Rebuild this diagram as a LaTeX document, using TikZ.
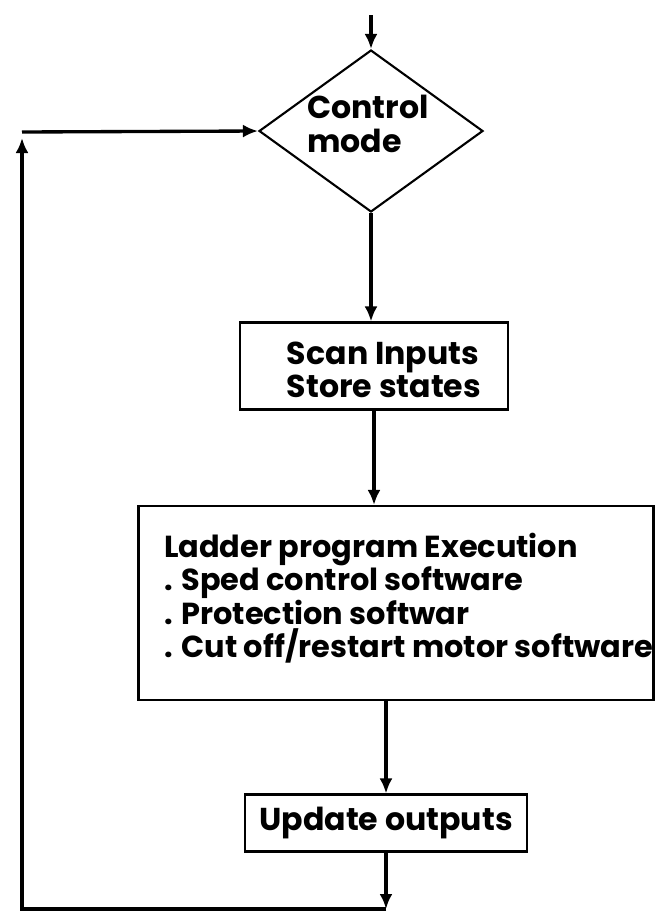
\documentclass[tikz,border=0pt]{standalone}
\usepackage{fontspec}
\setmainfont{Poppins}
\usetikzlibrary{shapes.geometric, arrows.meta, positioning, calc}

\begin{document}
\begin{tikzpicture}[x=0.02cm, y=-0.02cm,
    box/.style={draw, line width=1.2pt, inner sep=0pt},
    flow/.style={-{Latex[length=3mm, width=2.6mm]}, line width=1.9pt},
    every node/.style={font=\fontsize{18}{19}\selectfont\bfseries}]
    \useasboundingbox (0,0) rectangle (657,913);

    % Entry point
    \coordinate (start) at (371,15);

    % Control mode decision
    \node[box, diamond, aspect=1.38, minimum width=4.48cm, minimum height=3.24cm] (mode) at (371,131) {};
    \node[align=left] (modetext) at (368,124) {Control\\mode};

    % Scan inputs
    \node[box, minimum width=5.36cm, minimum height=1.74cm] (scan) at (374,366) {};
    \node[align=left] (scantext) at (384,370) {Scan Inputs\\Store states};

    % Ladder program
    \node[box, minimum width=10.3cm, minimum height=3.88cm] (ladder) at (396,603) {};
    \node[anchor=west, align=left, font=\fontsize{17.3}{19}\selectfont\bfseries] (ladtext) at (158,598) {Ladder program Execution\\. Sped control software\\. Protection softwar\\. Cut off/restart motor software};

    % Update outputs
    \node[box, minimum width=5.64cm, minimum height=1.14cm] (update) at (386,823) {Update outputs};

    % Return path
    \coordinate (corner) at (22,909);
    \coordinate (up) at (22,138);
    \coordinate (back) at (22,132);

    \draw[flow] (start) -- (mode.north);
    \draw[flow] (mode.south) -- (mode.south |- scan.north);
    \draw[flow] (scan.south) -- (scan.south |- ladder.north);
    \draw[flow] (update.north |- ladder.south) -- (update.north);
    \draw[flow] (update.south) -- (update.south |- corner);
    \draw[flow] (update.south |- corner) -- (corner) -- (up);
    \draw[flow] (back) -- (mode.west);
\end{tikzpicture}
\end{document}
